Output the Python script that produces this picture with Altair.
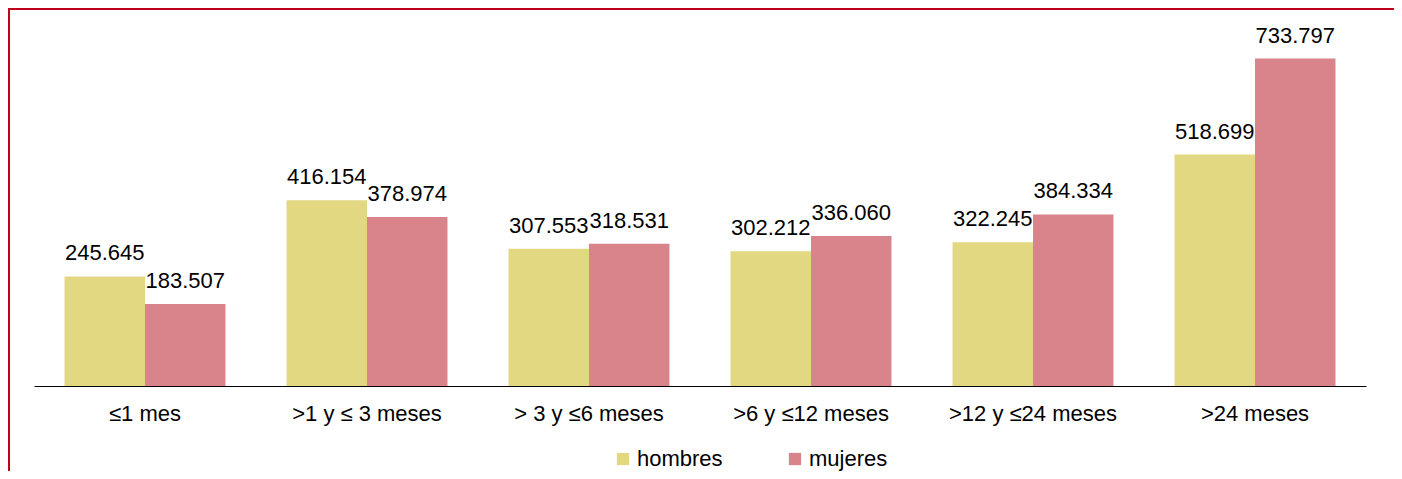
import altair as alt
import pandas as pd

categories = ["≤1 mes", ">1 y ≤ 3 meses", "> 3 y ≤6 meses", ">6 y ≤12 meses", ">12 y ≤24 meses", ">24 meses"]
hombres = [245.645, 416.154, 307.553, 302.212, 322.245, 518.699]
mujeres = [183.507, 378.974, 318.531, 336.060, 384.334, 733.797]
series = ["hombres", "mujeres"]
colors = ["#E2D882", "#D9838A"]

rows = []
for c, h, m in zip(categories, hombres, mujeres):
    rows.append({"cat": c, "serie": "hombres", "valor": h})
    rows.append({"cat": c, "serie": "mujeres", "valor": m})
df = pd.DataFrame(rows)

FONT = "Liberation Sans"
W, H = 1332, 357
PAD = {"left": 26, "top": 21, "right": 28, "bottom": 85}

xenc = alt.X("cat:N", sort=categories, title=None,
             scale=alt.Scale(paddingInner=0.275, paddingOuter=0.1375),
             axis=alt.Axis(labelAngle=0, labelFontSize=22, labelFont=FONT, labelColor="#000000",
                           tickSize=0, labelPadding=17, domainColor="#000000", domainWidth=1.2))
xoff = alt.XOffset("serie:N", sort=series, scale=alt.Scale(paddingInner=0, paddingOuter=0))
yenc = alt.Y("valor:Q", axis=None, scale=alt.Scale(domain=[0, 800]))

base = alt.Chart(df)
bars = base.mark_bar().encode(
    x=xenc, xOffset=xoff, y=yenc,
    color=alt.Color("serie:N", sort=series,
                    scale=alt.Scale(domain=series, range=colors),
                    legend=alt.Legend(title=None, orient="none", legendX=578, legendY=419,
                                      direction="horizontal", symbolType="square",
                                      symbolSize=150, symbolStrokeWidth=0, padding=0,
                                      labelFontSize=22, labelFont=FONT, labelColor="#000000",
                                      labelOffset=3, columnPadding=61)),
)
labels = base.mark_text(fontSize=22, font=FONT, color="#000000", baseline="alphabetic", dy=-16).encode(
    x=xenc, xOffset=xoff, y=yenc,
    text=alt.Text("valor:Q", format=".3f"),
)

frame = pd.DataFrame({"k": [0]})
left_line = alt.Chart(frame).mark_rule(color="#C0001A", strokeWidth=2).encode(
    x=alt.value(-25), y=alt.value(-21), y2=alt.value(H + PAD["bottom"]))
top_line = alt.Chart(frame).mark_rule(color="#C0001A", strokeWidth=2).encode(
    x=alt.value(-26), x2=alt.value(W + PAD["right"]), y=alt.value(-20))

chart = alt.layer(bars, labels, left_line, top_line).properties(
    width=W, height=H,
    autosize=alt.AutoSizeParams(type="none"),
    padding=PAD,
    background="#FFFFFF",
).configure_view(stroke=None)

chart.save("out.html", embed_options={"renderer": "svg", "actions": False})
